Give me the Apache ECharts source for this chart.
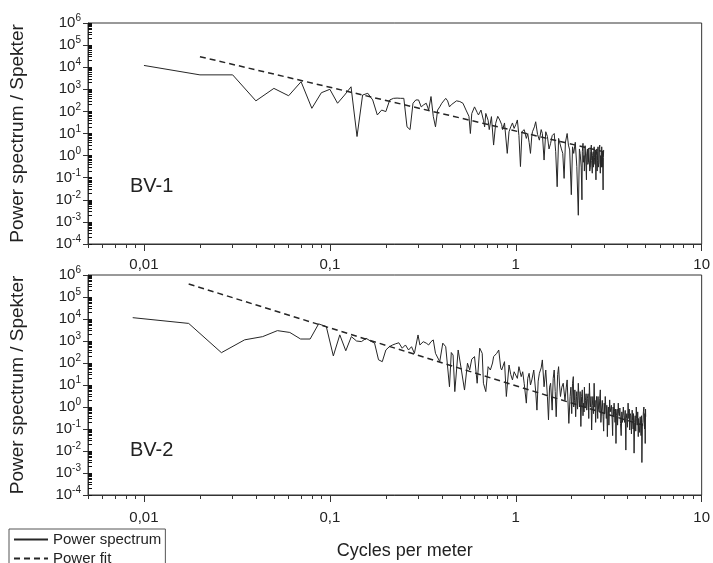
<!DOCTYPE html>
<html>
<head>
<meta charset="utf-8">
<script src="https://cdn.jsdelivr.net/npm/echarts@6/dist/echarts.min.js"></script>
<style>html,body{margin:0;padding:0;background:#fff}#c{width:713px;height:563px}</style>
</head>
<body>
<div id="c"></div>
<script>
// ---- data ----
var bv1Freq = [
  0.01,0.02,0.03,0.04,0.05,0.06,0.07,0.08,0.09,0.10,
  0.11,0.12,0.13,0.14,0.15,0.16,0.17,0.18,0.19,0.20,
  0.21,0.22,0.23,0.24,0.25,0.26,0.27,0.28,0.29,0.30,
  0.31,0.32,0.33,0.34,0.35,0.36,0.37,0.38,0.39,0.40,
  0.42,0.43,0.44,0.45,0.46,0.48,0.49,0.50,0.52,0.54,
  0.56,0.57,0.58,0.60,0.62,0.63,0.65,0.67,0.68,0.69,
  0.71,0.72,0.74,0.76,0.78,0.80,0.82,0.84,0.85,0.87,
  0.90,0.92,0.94,0.96,0.98,1.00,1.02,1.04,1.06,1.08,
  1.11,1.14,1.16,1.18,1.20,1.22,1.23,1.26,1.28,1.31,
  1.34,1.37,1.39,1.42,1.45,1.48,1.51,1.54,1.57,1.61,
  1.64,1.67,1.70,1.72,1.76,1.79,1.82,1.85,1.89,1.92,
  1.95,1.99,2.02,2.05,2.09,2.13,2.17,2.20,2.22,2.25,
  2.27,2.28,2.30,2.31,2.33,2.34,2.36,2.38,2.40,2.41,
  2.43,2.44,2.46,2.47,2.49,2.50,2.52,2.53,2.55,2.56,
  2.58,2.59,2.61,2.62,2.64,2.65,2.67,2.68,2.70,2.71,
  2.73,2.74,2.75,2.76,2.77,2.78,2.80,2.81,2.83,2.84,
  2.85,2.86,2.88,2.89,2.90,2.91,2.92,2.93,2.95,2.96,
  2.97];
var bv1Power = [
  12000,4500,4500,300,1100,510,2200,138,700,1000,
  234,550,1300,7.3,550,660,330,69,115,98,
  330,390,400,390,390,20,15,234,330,330,
  160,200,234,115,470,60,20,115,160,234,
  390,300,160,200,234,300,355,280,234,115,
  60,10,80,160,90,69,115,40,20,81,
  40,15,58,3,29,60,41,25,15,30,
  1.26,12,20,30,17,25,41,8,0.32,12,
  15,6,10,4,1.26,8,12,20,34,9,
  5,15,10,0.63,12,7.3,2,3.6,8,10,
  1.5,0.039,6,5,2,1.26,0.093,4,10,3,
  1.8,0.017,2.5,1.26,4,0.32,0.002,2,1.26,0.3,
  0.01,1.5,3.6,0.5,1,0.2,2.8,0.7,0.08,1.2,
  2,0.4,0.5,2.2,1.8,0.2,0.3,1.5,3,0.6,
  0.16,1,1.5,0.3,2.5,0.8,0.4,1.8,0.08,1,
  2,0.2,0.6,1.5,2.5,0.3,0.5,2,3,0.4,
  0.16,1,1.2,0.3,2.5,0.7,0.3,1.5,0.028,0.8,
  1.8];
var bv1FitFreq = [0.02, 2.97];
var bv1FitPower = [30000, 1.5];

var bv2Freq = [
  0.0087,0.0174,0.0261,0.0348,0.0435,0.0522,0.0609,0.0696,0.0783,0.087,
  0.0957,0.1044,0.1131,0.1218,0.1305,0.1392,0.1479,0.1566,0.1653,0.174,
  0.1827,0.1914,0.2001,0.2088,0.2175,0.2262,0.235,0.245,0.255,0.265,
  0.275,0.285,0.298,0.305,0.318,0.33,0.34,0.35,0.36,0.37,
  0.39,0.405,0.42,0.44,0.45,0.46,0.47,0.49,0.51,0.53,
  0.55,0.565,0.58,0.60,0.62,0.64,0.66,0.67,0.69,0.71,
  0.73,0.75,0.76,0.79,0.81,0.83,0.84,0.87,0.89,0.92,
  0.94,0.96,0.98,1.00,1.02,1.04,1.07,1.09,1.11,1.14,
  1.16,1.18,1.20,1.22,1.25,1.28,1.30,1.32,1.34,1.37,
  1.39,1.42,1.45,1.48,1.50,1.52,1.54,1.57,1.59,1.61,
  1.63,1.65,1.68,1.70,1.72,1.74,1.77,1.80,1.84,1.87,
  1.89,1.93,1.96,1.98,2.00,2.02,2.04,2.05,2.07,2.08,
  2.10,2.12,2.13,2.15,2.17,2.19,2.20,2.22,2.24,2.26,
  2.28,2.30,2.31,2.33,2.34,2.36,2.37,2.39,2.41,2.43,
  2.45,2.47,2.49,2.51,2.52,2.54,2.56,2.58,2.60,2.62,
  2.64,2.66,2.67,2.69,2.70,2.72,2.74,2.76,2.77,2.79,
  2.81,2.83,2.85,2.87,2.90,2.92,2.95,2.97,2.99,3.01,
  3.03,3.05,3.07,3.09,3.11,3.13,3.15,3.17,3.20,3.22,
  3.25,3.27,3.30,3.32,3.34,3.36,3.38,3.40,3.42,3.44,
  3.46,3.48,3.51,3.53,3.56,3.58,3.61,3.63,3.66,3.69,
  3.72,3.75,3.79,3.82,3.85,3.88,3.91,3.93,3.96,3.99,
  4.02,4.04,4.06,4.08,4.10,4.13,4.16,4.19,4.23,4.25,
  4.28,4.30,4.33,4.36,4.39,4.42,4.45,4.47,4.50,4.53,
  4.56,4.58,4.61,4.64,4.67,4.70,4.72,4.75,4.77,4.80,
  4.83,4.86,4.89,4.91,4.93,4.95,4.97,4.99,5.00];
var bv2Power = [
  11500,6300,295,1130,1580,2960,2450,1230,1230,6000,
  4500,210,1900,360,1580,1000,940,1330,1000,800,
  140,115,390,550,660,750,830,470,660,390,
  550,275,1880,660,930,800,660,930,1120,275,
  115,800,550,8.3,300,230,5,390,48,5.9,
  98,48,150,195,12,470,275,12,5,68,
  48,100,195,275,390,60,48,115,3,81,
  30,17,40,48,20,68,24,40,12,1.5,
  20,34,10,17,48,5,0.72,15,34,60,
  138,8.3,48,3,0.26,8,12,0.72,20,48,
  5,0.36,30,68,10,3,8,12,2,8,
  17,0.18,3,8,0.5,12,24,1,2,6,
  0.36,3,5,0.8,12,2,1,5,0.13,3,
  6,0.4,1.5,0.6,8,0.9,2,4,0.72,2.5,
  4,0.3,12,1.5,1,3,0.09,1.2,3,0.5,
  12,1,2,0.2,0.51,3,1.5,0.3,3,0.8,
  0.6,2.5,6,0.2,1,2,0.36,0.08,1.5,0.5,
  3,1,0.3,1.2,0.045,0.6,1,0.15,2.1,0.6,
  0.5,1.2,0.26,0.05,1,0.4,1.5,0.6,0.2,0.8,
  0.022,0.4,0.8,0.15,1.5,0.5,0.4,0.9,0.18,0.05,
  0.6,0.2,1,0.4,0.2,0.7,0.011,0.3,0.5,0.12,
  1.5,0.5,0.3,0.8,0.09,0.5,0.4,0.06,0.72,0.25,
  0.1,0.5,0.008,0.2,0.4,0.08,1,0.3,0.15,0.6,
  0.045,0.3,0.3,0.07,0.36,0.15,0.05,0.4,0.003,0.15,
  0.2,0.6,1,0.2,0.1,0.5,0.022,0.8,0.36];
var bv2FitFreq = [0.0174, 5.0];
var bv2FitPower = [390000, 0.135];

var xTickValues = [0.01, 0.1, 1, 10];
var xTickLabels = ['0,01', '0,1', '1', '10'];
var yTickExponents = [-4,-3,-2,-1,0,1,2,3,4,5,6];
var panelNames = ['BV-1', 'BV-2'];
var legendNames = ['Power spectrum', 'Power fit'];

// ---- helpers ----
function pairs(xs, ys) { return xs.map(function (x, i) { return [x, ys[i]]; }); }
function minorValues(lo, hi) {
  var out = [];
  for (var e = lo; e < hi; e++) {
    for (var m = 1; m <= 9; m++) out.push(m * Math.pow(10, e));
  }
  out.push(Math.pow(10, hi));
  return out;
}
var yMajor = yTickExponents.map(function (e) { return Math.pow(10, e); });
var yMinor = minorValues(-4, 6);
var xMinor = minorValues(-3, 1).filter(function (v) { return v >= 0.005; });

var FONT = 'Liberation Sans, Arial, sans-serif';
var TXT = '#222';
var AX = '#333';

function xLabel(v) {
  var e = Math.round(Math.log10(v));
  var i = xTickValues.findIndex(function (t) { return Math.round(Math.log10(t)) === e; });
  return i >= 0 ? xTickLabels[i] : '';
}
function yLabel(v) {
  var e = Math.round(Math.log10(v));
  return '{b|10}{s|' + e + '}';
}

var grids = [
  { left: 87, top: 23, width: 618, height: 221 },
  { left: 87, top: 275, width: 618, height: 220 }
];

var xAxes = [], yAxes = [];
[0, 1].forEach(function (g) {
  xAxes.push({
    type: 'log', gridIndex: g, min: 0.005, max: 10, position: 'bottom',
    axisLine: { show: true, lineStyle: { color: AX, width: 1 } },
    axisTick: { show: true, length: 7, customValues: xTickValues, lineStyle: { color: AX } },
    axisLabel: { customValues: xTickValues, formatter: xLabel, margin: g === 0 ? 13 : 15,
      fontFamily: FONT, fontSize: 15, color: TXT },
    splitLine: { show: false },
    name: g === 1 ? 'Cycles per meter' : '', nameLocation: 'middle', nameGap: 47,
    nameTextStyle: { fontFamily: FONT, fontSize: 18, color: TXT, padding: [0, 0, 0, 20] }
  });
  xAxes.push({
    type: 'log', gridIndex: g, min: 0.005, max: 10, position: 'bottom',
    axisLine: { show: false },
    axisTick: { show: true, length: 4, customValues: xMinor, lineStyle: { color: AX } },
    axisLabel: { show: false }, splitLine: { show: false }
  });
  yAxes.push({
    type: 'log', gridIndex: g, min: 1e-4, max: 1e6, position: 'left',
    axisLine: { show: true, lineStyle: { color: AX, width: 1 } },
    axisTick: { show: true, length: 5, customValues: yMajor, lineStyle: { color: AX } },
    axisLabel: { customValues: yMajor, formatter: yLabel, margin: 7, color: TXT,
      rich: {
        b: { fontFamily: FONT, fontSize: 15, color: TXT },
        s: { fontFamily: FONT, fontSize: 10, color: TXT, verticalAlign: 'top', padding: [0, 0, 9, 0] }
      }
    },
    splitLine: { show: false },
    name: 'Power spectrum / Spekter', nameLocation: 'middle', nameGap: 61,
    nameTextStyle: { fontFamily: FONT, fontSize: 19, color: TXT }
  });
  yAxes.push({
    type: 'log', gridIndex: g, min: 1e-4, max: 1e6, position: 'left',
    axisLine: { show: false },
    axisTick: { show: true, inside: true, length: 4, customValues: yMinor, lineStyle: { color: '#111' } },
    axisLabel: { show: false }, splitLine: { show: false }
  });
});

var lineColor = '#262626';
function lineSeries(name, xi, data, dashed) {
  return {
    name: name, type: 'line', xAxisIndex: xi, yAxisIndex: xi, data: data,
    showSymbol: false, symbol: 'none',
    lineStyle: dashed ? { color: lineColor, width: 1.5, type: [6, 4] } : { color: lineColor, width: 1 },
    itemStyle: { color: lineColor }, animation: false
  };
}
var series = [
  lineSeries(legendNames[0], 0, pairs(bv1Freq, bv1Power), false),
  lineSeries(legendNames[1], 0, pairs(bv1FitFreq, bv1FitPower), true),
  lineSeries(legendNames[0], 2, pairs(bv2Freq, bv2Power), false),
  lineSeries(legendNames[1], 2, pairs(bv2FitFreq, bv2FitPower), true)
];

var chart = echarts.init(document.getElementById('c'), null, { renderer: 'canvas' });
chart.setOption({
  backgroundColor: '#fff',
  animation: false,
  grid: grids.map(function (g) {
    return Object.assign({ show: true, borderColor: AX, borderWidth: 1, backgroundColor: 'transparent' }, g);
  }),
  xAxis: xAxes,
  yAxis: yAxes,
  legend: {
    data: legendNames, orient: 'vertical', left: 9, top: 529, height: 80,
    padding: [3, 4, 3, 4], itemGap: 4, itemWidth: 34, itemHeight: 14,
    borderColor: '#555', borderWidth: 1, backgroundColor: '#fff',
    itemStyle: { opacity: 0 },
    textStyle: { fontFamily: FONT, fontSize: 15, color: TXT }
  },
  graphic: [
    { type: 'text', left: 130, top: 176, style: { text: panelNames[0], fontFamily: FONT, fontSize: 20, fill: TXT } },
    { type: 'text', left: 130, top: 440, style: { text: panelNames[1], fontFamily: FONT, fontSize: 20, fill: TXT } }
  ],
  series: series
});
</script>
</body>
</html>
